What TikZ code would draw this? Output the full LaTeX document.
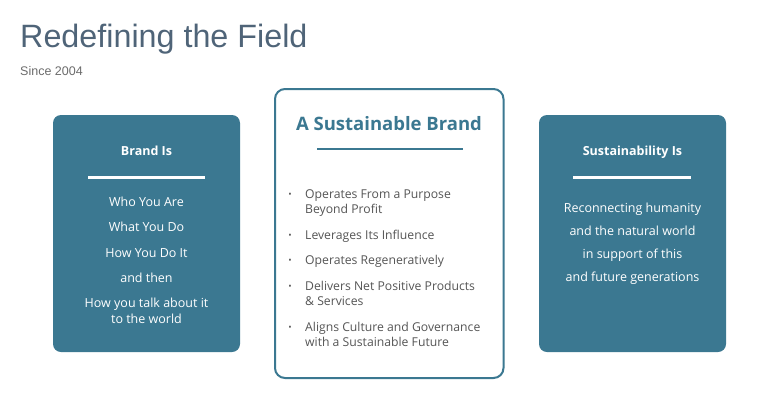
\documentclass[tikz,border=0pt]{standalone}
\usepackage{fontspec}
\setmainfont{Open Sans}
\newfontfamily\titlefont{Liberation Sans}
\definecolor{teal}{HTML}{3B7891}
\definecolor{slate}{HTML}{4F6478}
\definecolor{subgray}{HTML}{6B6B6B}
\definecolor{bodygray}{HTML}{555555}
\begin{document}
\begin{tikzpicture}[x=1pt,y=-1pt,
  panel/.style={fill=teal, rounded corners=8pt},
  midpanel/.style={draw=teal, line width=2pt, fill=white, rounded corners=10pt},
  rule/.style={line width=2.5pt},
  whitetxt/.style={text=white, anchor=base, inner sep=0pt, font=\fontsize{12.5}{15}\selectfont},
  headtxt/.style={text=white, anchor=base, inner sep=0pt, font=\fontsize{12.5}{15}\selectfont\bfseries},
  itemtxt/.style={text=bodygray, anchor=base west, inner sep=0pt, font=\fontsize{12.2}{15}\selectfont},
  bullettxt/.style={text=bodygray, anchor=base, inner sep=0pt, font=\fontsize{9}{10}\selectfont}
]
\useasboundingbox (0,0) rectangle (780,400);
% title
\node[anchor=base west, inner sep=0pt, text=slate, font=\titlefont\fontsize{32.3}{36}\selectfont] (title) at (20,47) {Redefining the Field};
\node[anchor=base west, inner sep=0pt, text=subgray, font=\titlefont\fontsize{12.5}{14}\selectfont] (sub) at (20,75.5) {Since 2004};
% left panel
\fill[panel] (53,115) rectangle (240,352);
\node[headtxt] (lh) at (146.5,155.5) {Brand Is};
\coordinate (la) at (88,177.7); \coordinate (lb) at (205,177.7);
\draw[rule, white] (la) -- (lb);
\node[whitetxt] (l1) at (146.5,206) {Who You Are};
\node[whitetxt] (l2) at (146.5,231) {What You Do};
\node[whitetxt] (l3) at (146.5,257) {How You Do It};
\node[whitetxt] (l4) at (146.5,282) {and then};
\node[whitetxt] (l5) at (146.5,307) {How you talk about it};
\node[whitetxt] (l6) at (146.5,323) {to the world};
% centre panel
\draw[midpanel] (275,89) rectangle (503.5,378);
\node[anchor=base, inner sep=0pt, text=teal, font=\fontsize{18.5}{22}\selectfont\bfseries] (ch) at (389,130) {A Sustainable Brand};
\coordinate (ca) at (317,149); \coordinate (cb) at (463,149);
\draw[rule, teal] (ca) -- (cb);
\node[bullettxt] (b1) at (290,197) {•};
\node[itemtxt] (c1a) at (305,198) {Operates From a Purpose};
\node[itemtxt] (c1b) at (305,213.5) {Beyond Profit};
\node[bullettxt] (b2) at (290,238) {•};
\node[itemtxt] (c2) at (305,239) {Leverages Its Influence};
\node[bullettxt] (b3) at (290,263) {•};
\node[itemtxt] (c3) at (305,264) {Operates Regeneratively};
\node[bullettxt] (b4) at (290,289) {•};
\node[itemtxt] (c4a) at (305,290) {Delivers Net Positive Products};
\node[itemtxt] (c4b) at (305,305) {\& Services};
\node[bullettxt] (b5) at (290,330) {•};
\node[itemtxt] (c5a) at (305,331) {Aligns Culture and Governance};
\node[itemtxt] (c5b) at (305,346) {with a Sustainable Future};
% right panel
\fill[panel] (539,115) rectangle (726,352);
\node[headtxt] (rh) at (632.5,155.5) {Sustainability Is};
\coordinate (ra) at (573,177.5); \coordinate (rb) at (691,177.5);
\draw[rule, white] (ra) -- (rb);
\node[whitetxt] (r1) at (632.5,212.5) {Reconnecting humanity};
\node[whitetxt] (r2) at (632.5,235) {and the natural world};
\node[whitetxt] (r3) at (632.5,258.5) {in support of this};
\node[whitetxt] (r4) at (632.5,281) {and future generations};
\end{tikzpicture}
\end{document}
